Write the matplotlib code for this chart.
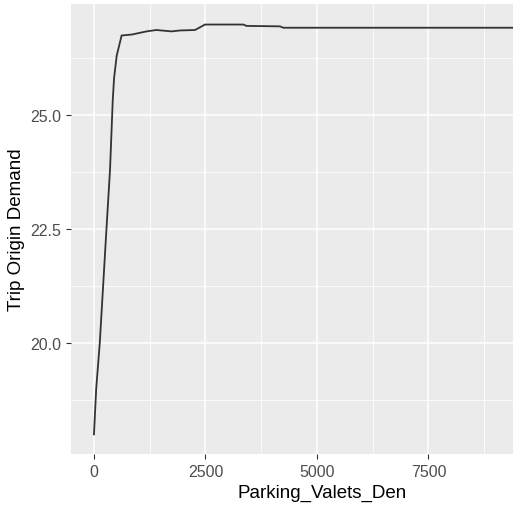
import numpy as np
import matplotlib
matplotlib.use("Agg")
import matplotlib.pyplot as plt
from matplotlib.ticker import FixedLocator

# values
valets_den = [0, 50, 130, 280, 360, 420, 450, 510, 620, 845, 1180, 1400,
              1740, 1930, 2265, 2490, 3350, 3420, 4170, 4245, 10800]
trip_demand = [18.0, 19.0, 20.0, 22.5, 23.8, 25.3, 25.8, 26.3, 26.74, 26.76,
               26.83, 26.86, 26.83, 26.85, 26.86, 26.98, 26.98, 26.95, 26.94,
               26.91, 26.91]

x_ticks = [0, 2500, 5000, 7500]
y_ticks = [20.0, 22.5, 25.0]

plt.rcParams['font.family'] = ['Liberation Sans', 'DejaVu Sans']

fig = plt.figure(figsize=(5.13, 5.10), dpi=100)
# the reference panel runs past the right edge of the picture
ax = fig.add_axes([71 / 513, 55 / 510, 502 / 513, 450 / 510])
ax.set_facecolor('#EBEBEB')

ax.plot(valets_den, trip_demand, color='#333333', lw=1.3, solid_joinstyle='miter')

ax.set_xlim(-515, 10740)
ax.set_ylim(17.57, 27.43)
ax.set_xticks(x_ticks)
ax.set_xticklabels([str(t) for t in x_ticks])
ax.set_yticks(y_ticks)
ax.set_yticklabels(['%.1f' % t for t in y_ticks])
ax.xaxis.set_minor_locator(FixedLocator([-1250, 1250, 3750, 6250, 8750]))
ax.yaxis.set_minor_locator(FixedLocator([18.75, 21.25, 23.75, 26.25]))

ax.grid(which='major', color='white', lw=1.1)
ax.grid(which='minor', color='white', lw=0.55)
ax.set_axisbelow(True)
for s in ax.spines.values():
    s.set_visible(False)

ax.tick_params(which='major', length=3.5, width=0.8, color='#333333',
               labelcolor='#4D4D4D', labelsize=11.5, pad=3.5)
ax.tick_params(which='minor', length=0)

ax.set_xlabel('Parking_Valets_Den', fontsize=13.5, color='black', labelpad=4)
ax.set_ylabel('Trip Origin Demand', fontsize=13.5, color='black', labelpad=4)

fig.savefig('out.png', dpi=100)
